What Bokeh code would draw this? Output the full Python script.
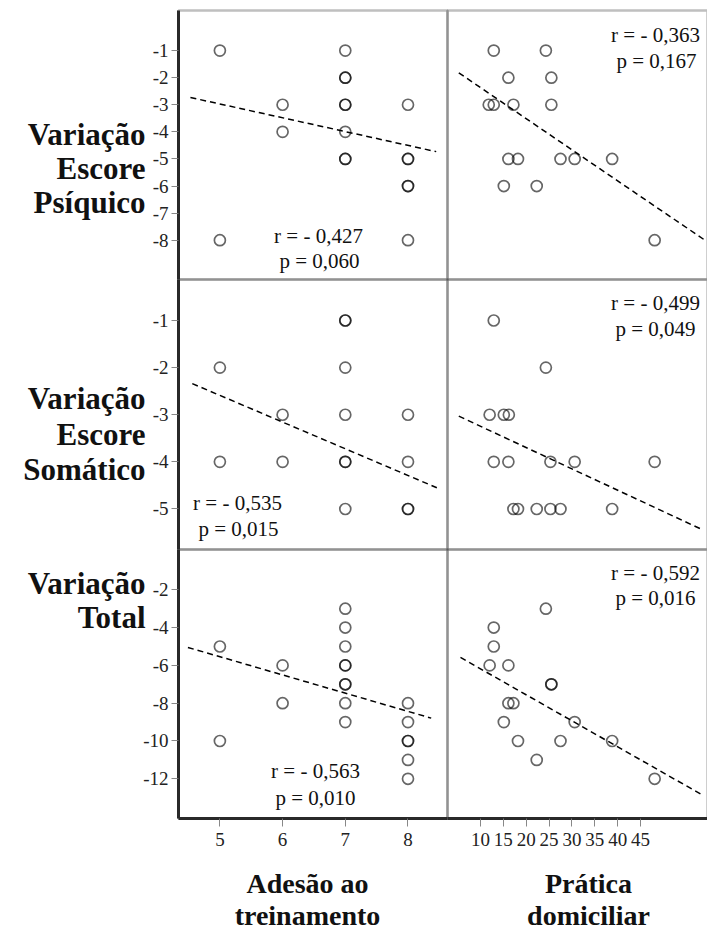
from bokeh.plotting import figure
from bokeh.models import Range1d, FixedTicker, Label, LinearAxis, BoxAnnotation
from bokeh.embed import file_html
from bokeh.resources import INLINE

# ---------------- data ----------------
# row 1: Variação Escore Psíquico
adesao_psi_x = [5, 5, 6, 6, 7, 7, 7, 7, 7, 7, 7, 7, 8, 8, 8, 8, 8, 8]
adesao_psi_y = [-1, -8, -3, -4, -1, -2, -2, -3, -3, -4, -5, -5, -3, -5, -5, -6, -6, -8]
pratica_psi_x = [12.9, 24.3, 16.1, 25.5, 11.8, 12.9, 17.2, 25.5, 16.1, 18.2, 27.5, 30.6, 38.8, 15.1, 22.3, 48.1]
pratica_psi_y = [-1, -1, -2, -2, -3, -3, -3, -3, -5, -5, -5, -5, -5, -6, -6, -8]

# row 2: Variação Escore Somático
adesao_som_x = [7, 7, 5, 7, 6, 7, 8, 5, 6, 7, 7, 8, 7, 8, 8]
adesao_som_y = [-1, -1, -2, -2, -3, -3, -3, -4, -4, -4, -4, -4, -5, -5, -5]
pratica_som_x = [12.9, 24.3, 12.0, 15.1, 16.2, 12.9, 16.1, 25.3, 30.6, 48.1, 17.2, 18.2, 22.3, 25.3, 27.5, 38.8]
pratica_som_y = [-1, -2, -3, -3, -3, -4, -4, -4, -4, -4, -5, -5, -5, -5, -5, -5]

# row 3: Variação Total
adesao_tot_x = [5, 5, 6, 6, 7, 7, 7, 7, 7, 7, 7, 7, 7, 8, 8, 8, 8, 8, 8]
adesao_tot_y = [-5, -10, -6, -8, -3, -4, -5, -6, -6, -7, -7, -8, -9, -8, -9, -10, -10, -11, -12]
pratica_tot_x = [24.3, 12.9, 12.9, 12.0, 16.1, 25.5, 25.5, 16.1, 17.2, 15.1, 30.6, 18.2, 27.5, 38.8, 22.3, 48.1]
pratica_tot_y = [-3, -4, -5, -6, -6, -7, -7, -8, -8, -9, -9, -10, -10, -10, -11, -12]

# regression line end points
fit_adesao_psi_x = [4.53, 8.45]
fit_adesao_psi_y = [-2.73, -4.73]
fit_pratica_psi_x = [5.25, 58.85]
fit_pratica_psi_y = [-1.82, -7.97]
fit_adesao_som_x = [4.56, 8.46]
fit_adesao_som_y = [-2.34, -4.55]
fit_pratica_som_x = [5.25, 58.1]
fit_pratica_som_y = [-3.03, -5.42]
fit_adesao_tot_x = [4.49, 8.37]
fit_adesao_tot_y = [-5.05, -8.79]
fit_pratica_tot_x = [5.62, 58.5]
fit_pratica_tot_y = [-5.58, -12.85]

# statistics
stats_r = [["r = - 0,427", "r = - 0,363"], ["r = - 0,535", "r = - 0,499"], ["r = - 0,563", "r = - 0,592"]]
stats_p = [["p = 0,060", "p = 0,167"], ["p = 0,015", "p = 0,049"], ["p = 0,010", "p = 0,016"]]

# ticks / labels
y_ticks = [[-1, -2, -3, -4, -5, -6, -7, -8], [-1, -2, -3, -4, -5], [-2, -4, -6, -8, -10, -12]]
y_tick_labels = [["-1", "-2", "-3", "-4", "-5", "-6", "-7", "-8"], ["-1", "-2", "-3", "-4", "-5"],
                 ["-2", "-4", "-6", "-8", "-10", "-12"]]
x_ticks = [[5, 6, 7, 8], [10, 15, 20, 25, 30, 35, 40, 45]]
row_titles = [["Variação", "Escore", "Psíquico"], ["Variação", "Escore", "Somático"], ["Variação", "Total"]]
col_titles = [["Adesão ao", "treinamento"], ["Prática", "domiciliar"]]

# panel value ranges
y_ranges = [(-9.45, 0.48), (-5.86, -0.13), (-14.1, 0.13)]
x_ranges = [(4.34, 8.63), (2.78, 59.66)]

data = [
    [(adesao_psi_x, adesao_psi_y, fit_adesao_psi_x, fit_adesao_psi_y),
     (pratica_psi_x, pratica_psi_y, fit_pratica_psi_x, fit_pratica_psi_y)],
    [(adesao_som_x, adesao_som_y, fit_adesao_som_x, fit_adesao_som_y),
     (pratica_som_x, pratica_som_y, fit_pratica_som_x, fit_pratica_som_y)],
    [(adesao_tot_x, adesao_tot_y, fit_adesao_tot_x, fit_adesao_tot_y),
     (pratica_tot_x, pratica_tot_y, fit_pratica_tot_x, fit_pratica_tot_y)],
]

# ---------------- layout (pixels) ----------------
W, H = 707, 930
col_px = [(178, 447), (447, 707)]             # left/right pixel edges of panels
row_px = [(10, 279), (279, 549), (549, 818)]  # top/bottom pixel edges of panels
SERIF = "Liberation Serif"

stat_pos = [[((318, 235), (319, 260)), ((655, 34), (656, 60))],
            [((237, 502), (238, 528)), ((655, 302), (655, 328))],
            [((315, 770), (315, 797)), ((655, 572), (655, 597))]]
row_title_pos = [[134, 168, 202], [398, 434, 469], [583, 617]]
row_title_right = 145
col_title_x = [307, 588]
col_title_y = [883, 915]


def ext_x(rng, px):
    a, b = rng
    p0, p1 = px
    k = (b - a) / (p1 - p0)
    return Range1d(a - k * p0, b + k * (W - p1))


def ext_y(rng, px):
    a, b = rng
    t, u = px
    k = (b - a) / (u - t)
    return Range1d(a - k * (H - u), b + k * t)


p = figure(width=W, height=H, x_range=Range1d(0, W), y_range=Range1d(0, H),
           output_backend="svg", toolbar_location=None,
           x_axis_location=None, y_axis_location=None,
           min_border=0, min_border_left=0, min_border_right=0,
           min_border_top=0, min_border_bottom=0)
p.xgrid.visible = False
p.ygrid.visible = False
p.outline_line_color = None
p.background_fill_color = "white"
p.border_fill_color = "white"

for c in range(2):
    p.extra_x_ranges[f"x{c}"] = ext_x(x_ranges[c], col_px[c])
for r in range(3):
    p.extra_y_ranges[f"y{r}"] = ext_y(y_ranges[r], row_px[r])


def style_axis(ax):
    ax.axis_line_color = "#2a2a2a"
    ax.axis_line_width = 3
    ax.major_tick_line_color = "#888888"
    ax.major_tick_in = 0
    ax.minor_tick_line_color = None
    ax.major_label_text_font = SERIF
    ax.major_label_text_font_size = "19px"
    ax.major_label_text_color = "#222222"


for r in range(3):
    for c in range(2):
        xs, ys, fx, fy = data[r][c]
        xn, yn = f"x{c}", f"y{r}"
        p.add_layout(BoxAnnotation(left=x_ranges[c][0], right=x_ranges[c][1],
                                   bottom=y_ranges[r][0], top=y_ranges[r][1],
                                   x_range_name=xn, y_range_name=yn,
                                   fill_alpha=0, line_color="#2a2a2a", line_width=2.5))
        p.line(fx, fy, line_color="black", line_width=1.5, line_dash="6 4",
               x_range_name=xn, y_range_name=yn)
        p.scatter(xs, ys, marker="circle", size=11, fill_color=None,
                  line_color="black", line_alpha=0.6, line_width=1.7,
                  x_range_name=xn, y_range_name=yn)
        for txt, (sx, sy) in zip((stats_r[r][c], stats_p[r][c]), stat_pos[r][c]):
            p.add_layout(Label(x=sx, y=H - sy, x_units="screen", y_units="screen", text=txt,
                               text_font=SERIF, text_font_size="21px", text_color="#111111",
                               text_align="center", text_baseline="middle"))

# left axes, one per row
for r in range(3):
    ax = LinearAxis(x_range_name="x0", y_range_name=f"y{r}",
                    fixed_location=x_ranges[0][0], bounds=y_ranges[r],
                    ticker=FixedTicker(ticks=y_ticks[r]),
                    major_label_overrides={t: s for t, s in zip(y_ticks[r], y_tick_labels[r])})
    style_axis(ax)
    ax.major_tick_out = 7
    ax.major_label_standoff = 3
    p.add_layout(ax, "left")
    for txt, sy in zip(row_titles[r], row_title_pos[r]):
        p.add_layout(Label(x=row_title_right, y=H - sy, x_units="screen", y_units="screen", text=txt,
                           text_font=SERIF, text_font_size="31px", text_font_style="bold",
                           text_color="#111111", text_align="right", text_baseline="middle"))

# bottom axes, one per column
for c in range(2):
    ax = LinearAxis(x_range_name=f"x{c}", y_range_name="y2",
                    fixed_location=y_ranges[2][0], bounds=x_ranges[c],
                    ticker=FixedTicker(ticks=x_ticks[c]))
    style_axis(ax)
    ax.major_tick_out = 8
    ax.major_label_standoff = 6
    p.add_layout(ax, "below")
    for txt, sy in zip(col_titles[c], col_title_y):
        p.add_layout(Label(x=col_title_x[c], y=H - sy, x_units="screen", y_units="screen", text=txt,
                           text_font=SERIF, text_font_size="28px", text_font_style="bold",
                           text_color="#111111", text_align="center", text_baseline="middle"))

open("out.html", "w").write(file_html(p, INLINE))
